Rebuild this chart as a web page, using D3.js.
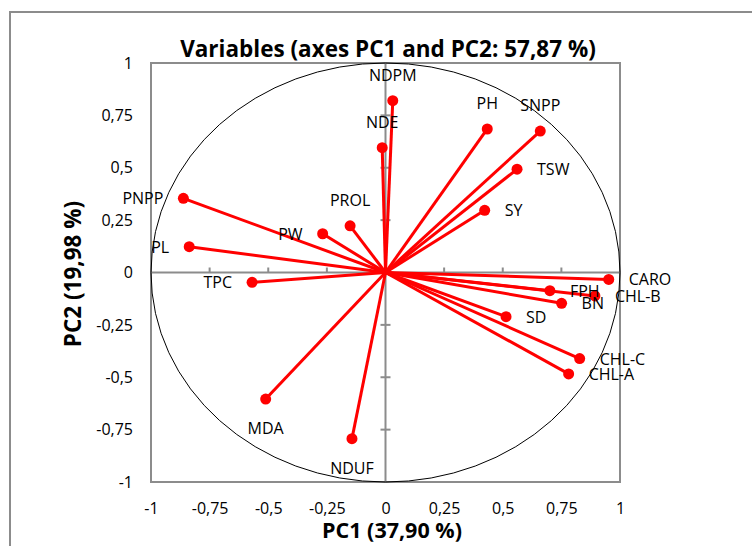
<!DOCTYPE html>
<html>
<head>
  <meta charset="utf-8">
  <title>PCA variables</title>
  <script src="https://d3js.org/d3.v7.min.js"></script>
  <style>
    body { margin: 0; background: #fff; }
    text { font-family: "Open Sans", sans-serif; fill: #000; }
  </style>
</head>
<body>
<div id="vis"></div>
<script>
// variables of the correlation circle
var variables = ["NDPM", "NDE", "PH", "SNPP", "TSW", "SY", "CARO", "FPH", "CHL-B", "BN",
                 "SD", "CHL-C", "CHL-A", "PNPP", "PL", "PW", "PROL", "TPC", "MDA", "NDUF"];
var pc1 = [0.031, -0.014, 0.434, 0.660, 0.561, 0.423, 0.952, 0.701, 0.893, 0.751,
           0.514, 0.828, 0.781, -0.862, -0.837, -0.268, -0.151, -0.569, -0.511, -0.143];
var pc2 = [0.820, 0.596, 0.685, 0.675, 0.493, 0.297, -0.033, -0.087, -0.112, -0.147,
           -0.211, -0.411, -0.484, 0.354, 0.123, 0.185, 0.223, -0.047, -0.604, -0.793];

var tickValues = [-1, -0.75, -0.5, -0.25, 0, 0.25, 0.5, 0.75, 1];
var tickLabels = ["-1", "-0,75", "-0,5", "-0,25", "0", "0,25", "0,5", "0,75", "1"];

var titleText = "Variables (axes PC1 and PC2: 57,87 %)";
var xTitle = "PC1 (37,90 %)";
var yTitle = "PC2 (19,98 %)";

// where each label sits around its point (like excel data labels)
var side = {
  "NDPM": "above", "NDE": "above", "PH": "above", "SNPP": "above", "PROL": "above",
  "MDA": "below", "NDUF": "below",
  "PNPP": "left", "PL": "left", "PW": "left", "TPC": "left"
};

var W = 752, H = 546;
var pLeft = 151, pRight = 620, pTop = 63, pBottom = 482;

var svg = d3.select("#vis").append("svg")
  .attr("width", W)
  .attr("height", H);

// outer chart border (goes past the picture on right and bottom)
svg.append("rect")
  .attr("x", 10).attr("y", 12)
  .attr("width", 800).attr("height", 600)
  .attr("fill", "none")
  .attr("stroke", "#8c8c8c")
  .attr("stroke-width", 2);

var x = d3.scaleLinear().domain([-1, 1]).range([pLeft, pRight]);
var y = d3.scaleLinear().domain([-1, 1]).range([pBottom, pTop]);

// plot frame
svg.append("rect")
  .attr("x", x(-1)).attr("y", y(1))
  .attr("width", x(1) - x(-1)).attr("height", y(-1) - y(1))
  .attr("fill", "none")
  .attr("stroke", "#8c8c8c")
  .attr("stroke-width", 2);

// tick labels along the bottom and the left edge
var fmt = function(d) { return tickLabels[tickValues.indexOf(d)]; };

var gx = svg.append("g")
  .attr("transform", "translate(0," + y(-1) + ")")
  .call(d3.axisBottom(x).tickValues(tickValues).tickFormat(fmt).tickSize(0).tickPadding(21));
gx.select(".domain").remove();

var gy = svg.append("g")
  .attr("transform", "translate(" + (x(-1) - 18) + ",0)")
  .call(d3.axisLeft(y).tickValues(tickValues).tickFormat(fmt).tickSize(0).tickPadding(0));
gy.select(".domain").remove();

svg.selectAll(".tick text")
  .style("font-family", "'Open Sans', sans-serif")
  .style("font-size", "16px")
  .attr("fill", "#000");

// zero axes with their ticks
svg.append("line")
  .attr("x1", x(-1)).attr("x2", x(1))
  .attr("y1", y(0)).attr("y2", y(0))
  .attr("stroke", "#8c8c8c").attr("stroke-width", 2);
svg.append("line")
  .attr("x1", x(0)).attr("x2", x(0))
  .attr("y1", y(-1)).attr("y2", y(1))
  .attr("stroke", "#8c8c8c").attr("stroke-width", 2);

svg.selectAll("line.xt").data(tickValues).enter().append("line")
  .attr("class", "xt")
  .attr("x1", function(d) { return x(d); })
  .attr("x2", function(d) { return x(d); })
  .attr("y1", y(0)).attr("y2", y(0) - 5)
  .attr("stroke", "#8c8c8c").attr("stroke-width", 2);

svg.selectAll("line.yt").data(tickValues).enter().append("line")
  .attr("class", "yt")
  .attr("x1", x(0) - 5).attr("x2", x(0) + 5)
  .attr("y1", function(d) { return y(d); })
  .attr("y2", function(d) { return y(d); })
  .attr("stroke", "#8c8c8c").attr("stroke-width", 2);

// correlation circle
svg.append("ellipse")
  .attr("cx", x(0)).attr("cy", y(0))
  .attr("rx", x(1) - x(0)).attr("ry", y(0) - y(1))
  .attr("fill", "none")
  .attr("stroke", "#000")
  .attr("stroke-width", 1);

var datos = variables.map(function(v, i) {
  return { name: v, a: pc1[i], b: pc2[i] };
});

svg.selectAll("line.vec").data(datos).enter().append("line")
  .attr("class", "vec")
  .attr("x1", x(0)).attr("y1", y(0))
  .attr("x2", function(d) { return x(d.a); })
  .attr("y2", function(d) { return y(d.b); })
  .attr("stroke", "#ff0000")
  .attr("stroke-width", 3);

svg.selectAll("circle.pt").data(datos).enter().append("circle")
  .attr("class", "pt")
  .attr("cx", function(d) { return x(d.a); })
  .attr("cy", function(d) { return y(d.b); })
  .attr("r", 5.5)
  .attr("fill", "#ff0000");

svg.selectAll("text.lbl").data(datos).enter().append("text")
  .attr("class", "lbl")
  .attr("font-size", 16)
  .attr("x", function(d) {
    var s = side[d.name] || "right";
    if (s == "right") return x(d.a) + 20;
    if (s == "left") return x(d.a) - 20;
    return x(d.a);
  })
  .attr("y", function(d) {
    var s = side[d.name] || "right";
    if (s == "above") return y(d.b) - 20;
    if (s == "below") return y(d.b) + 35;
    return y(d.b) + 6;
  })
  .attr("text-anchor", function(d) {
    var s = side[d.name] || "right";
    if (s == "right") return "start";
    if (s == "left") return "end";
    return "middle";
  })
  .text(function(d) { return d.name; });

// titles
svg.append("text")
  .attr("x", 388).attr("y", 57)
  .attr("text-anchor", "middle")
  .attr("font-size", 22.5)
  .attr("font-weight", "bold")
  .text(titleText);

svg.append("text")
  .attr("x", 392).attr("y", 538)
  .attr("text-anchor", "middle")
  .attr("font-size", 21.5)
  .attr("font-weight", "bold")
  .text(xTitle);

svg.append("text")
  .attr("transform", "translate(81,274) rotate(-90)")
  .attr("text-anchor", "middle")
  .attr("font-size", 22.5)
  .attr("font-weight", "bold")
  .text(yTitle);
</script>
</body>
</html>
